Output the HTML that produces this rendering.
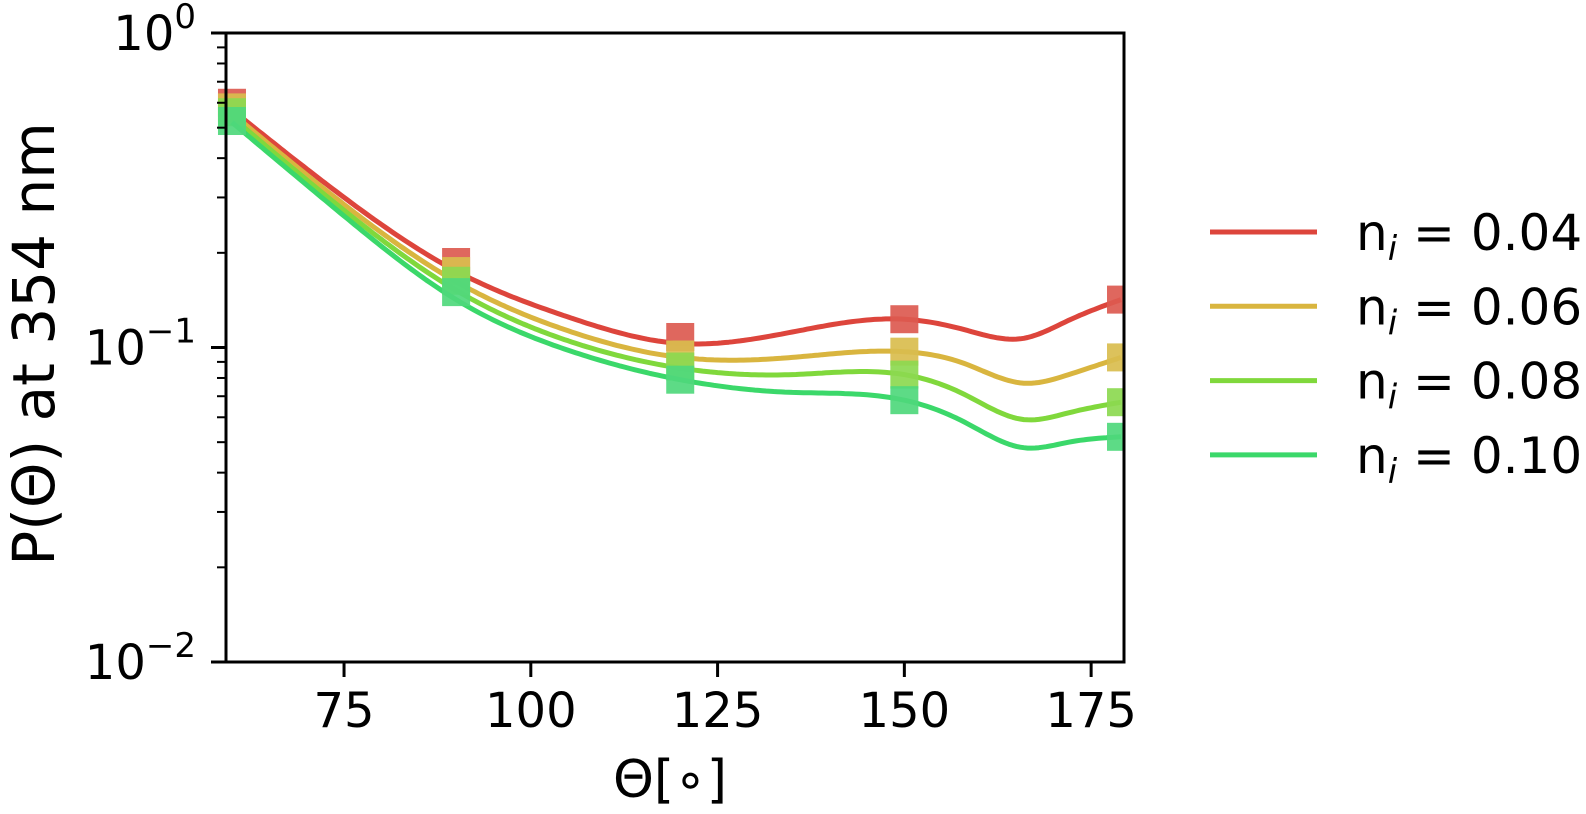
<!DOCTYPE html>
<html><head><meta charset="utf-8"><style>
html,body{margin:0;padding:0;background:#fff;}
svg{display:block;font-family:"DejaVu Sans","Liberation Sans",sans-serif;}
</style></head><body>
<svg id="chart" width="1586" height="814" viewBox="0 0 1586 814">
<g id="plot"></g>
<g id="axes"></g>
<g id="legend"></g>
</svg>
<script>
const angles = [60, 75, 90, 105, 120, 135, 150, 158, 166, 172, 179];
const red = [0.57, 0.30, 0.175, 0.125, 0.103, 0.112, 0.123, 0.114, 0.107, 0.122, 0.142];
const yellow = [0.555, 0.285, 0.162, 0.113, 0.093, 0.093, 0.097, 0.089, 0.077, 0.082, 0.093];
const lime = [0.54, 0.273, 0.152, 0.105, 0.086, 0.082, 0.082, 0.071, 0.059, 0.062, 0.067];
const green = [0.52, 0.262, 0.142, 0.098, 0.079, 0.072, 0.068, 0.058, 0.048, 0.050, 0.052];
const markerAngles = [60, 90, 120, 150, 179];
const redMarkers = [0.60, 0.187, 0.108, 0.123, 0.142];
const yellowMarkers = [0.58, 0.175, 0.095, 0.097, 0.093];
const limeMarkers = [0.56, 0.163, 0.087, 0.082, 0.067];
const greenMarkers = [0.525, 0.150, 0.079, 0.068, 0.052];
const labels = ["0.04", "0.06", "0.08", "0.10"];
const xTicks = [75, 100, 125, 150, 175];
const yTickExp = [0, -1, -2];

const NS = "http://www.w3.org/2000/svg";
const L = 226, R = 1124, T = 33, B = 662;
const xMin = 59.2, xMax = 179.4;
const yMaxExp = 0, yMinExp = -2;
function xs(v){ return L + (v - xMin) / (xMax - xMin) * (R - L); }
function ys(v){ return T + (yMaxExp - Math.log10(v)) / (yMaxExp - yMinExp) * (B - T); }
function mk(tag, attrs, parent){ const e = document.createElementNS(NS, tag); for (const k in attrs) e.setAttribute(k, attrs[k]); parent.appendChild(e); return e; }
function spline(xa, ya){
  const n = xa.length, y = ya.map(v => Math.log10(v));
  const h = [], al = [0], l = [1], mu = [0], z = [0], c = new Array(n).fill(0), b = [], d = [];
  for (let i = 0; i < n-1; i++) h.push(xa[i+1]-xa[i]);
  for (let i = 1; i < n-1; i++) al.push(3/h[i]*(y[i+1]-y[i]) - 3/h[i-1]*(y[i]-y[i-1]));
  for (let i = 1; i < n-1; i++){ l[i] = 2*(xa[i+1]-xa[i-1]) - h[i-1]*mu[i-1]; mu[i] = h[i]/l[i]; z[i] = (al[i]-h[i-1]*z[i-1])/l[i]; }
  for (let j = n-2; j >= 0; j--){ c[j] = (j < n-1 ? z[j] - mu[j]*c[j+1] : 0); b[j] = (y[j+1]-y[j])/h[j] - h[j]*(c[j+1]+2*c[j])/3; d[j] = (c[j+1]-c[j])/(3*h[j]); }
  return function(x){ let i = 0; while (i < n-2 && x > xa[i+1]) i++; const t = x - xa[i]; return Math.pow(10, y[i] + b[i]*t + c[i]*t*t + d[i]*t*t*t); };
}
const series = [
  {vals: red, marks: redMarkers, line: "#dd453c", mark: "#dc5a50"},
  {vals: yellow, marks: yellowMarkers, line: "#d9b53f", mark: "#d9bd4e"},
  {vals: lime, marks: limeMarkers, line: "#80d83c", mark: "#8cd950"},
  {vals: green, marks: greenMarkers, line: "#3bd86a", mark: "#4fd87c"}
];
const plot = document.getElementById("plot");
series.forEach((s, si) => {
  const f = spline(angles, s.vals);
  let d = "";
  for (let a = angles[0]; a <= angles[angles.length-1] + 1e-9; a += 0.5) {
    d += (d ? "L" : "M") + xs(a).toFixed(1) + "," + ys(f(a)).toFixed(1);
  }
  const p = mk("path", {d: d, fill: "none", stroke: s.line, "stroke-width": 5, "stroke-linejoin": "round"}, plot);
  
  
  markerAngles.forEach((a, mi) => {
    const r = mk("rect", {x: xs(a) - 14, y: ys(s.marks[mi]) - 14, width: 28, height: 28, fill: s.mark, opacity: 0.92}, plot);
    
    
  });
});
const cover = mk("rect", {x: R + 1.5, y: 0, width: 50, height: 814, fill: "#fff"}, plot);



const axes = document.getElementById("axes");
const frame = mk("rect", {x: L, y: T, width: R - L, height: B - T, fill: "none", stroke: "#000", "stroke-width": 3}, axes);


xTicks.forEach(t => {
  const x = xs(t);
  const tk = mk("line", {x1: x, y1: B, x2: x, y2: B + 15, stroke: "#000", "stroke-width": 3}, axes);
  
  
  const tx = mk("text", {x: x, y: 727, "text-anchor": "middle", "font-size": 48, fill: "#000"}, axes);
  tx.textContent = t;
  
  
});
yTickExp.forEach(e => {
  const y = ys(Math.pow(10, e));
  const tk = mk("line", {x1: L - 15, y1: y, x2: L, y2: y, stroke: "#000", "stroke-width": 3}, axes);
  
  
  const tx = mk("text", {x: 196, y: y + 17, "text-anchor": "end", "font-size": 48, fill: "#000"}, axes);
  tx.textContent = "10";
  const sp = document.createElementNS(NS, "tspan");
  sp.setAttribute("dy", -22); sp.setAttribute("font-size", 34);
  sp.textContent = e === 0 ? "0" : "\u2212" + (-e);
  tx.appendChild(sp);
  
  
  if (e > yMinExp) {
    for (let m = 2; m <= 9; m++) {
      const yy = ys(m * Math.pow(10, e - 1));
      const mt = mk("line", {x1: L - 9, y1: yy, x2: L, y2: yy, stroke: "#000", "stroke-width": 2}, axes);
      
      
    }
  }
});
const xl = mk("text", {x: 670, y: 797, "text-anchor": "middle", "font-size": 52, fill: "#000"}, axes);
xl.textContent = "Θ[∘]";


const yl = mk("text", {x: 0, y: 0, "text-anchor": "middle", "font-size": 58, fill: "#000", transform: "translate(54,344) rotate(-90)"}, axes);
yl.textContent = "P(Θ) at 354 nm";



const legend = document.getElementById("legend");
series.forEach((s, i) => {
  const y = 232 + i * 74.3;
  const ln = mk("line", {x1: 1210, y1: y, x2: 1317, y2: y, stroke: s.line, "stroke-width": 5}, legend);
  
  
  const tx = mk("text", {x: 1356, y: y + 18, "font-size": 50, fill: "#000"}, legend);
  tx.innerHTML = 'n<tspan font-style="italic" font-size="34" dy="10">i</tspan><tspan dy="-10"> = ' + labels[i] + '</tspan>';
  
  
});
</script>
</body></html>
